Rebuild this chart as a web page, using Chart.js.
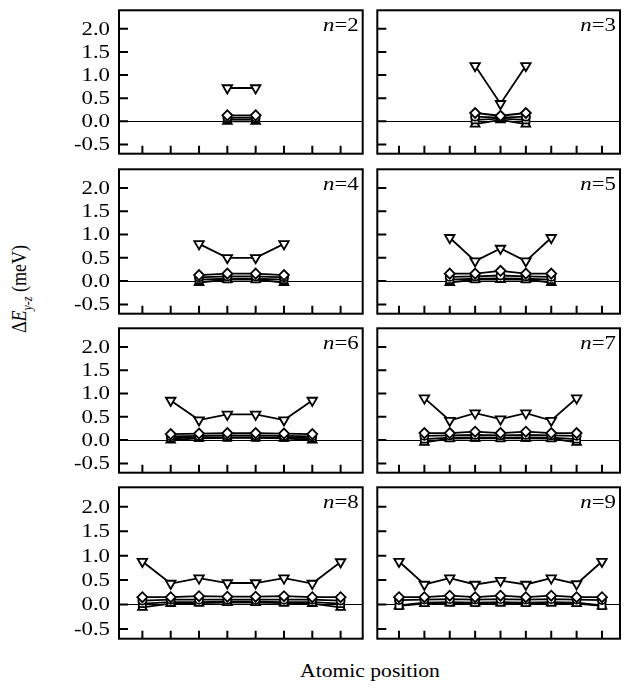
<!DOCTYPE html>
<html>
<head>
<meta charset="utf-8">
<script src="https://cdn.jsdelivr.net/npm/chart.js@4"></script>
<style>
  html, body { margin: 0; padding: 0; background: #fff; }
  #wrap { position: relative; width: 628px; height: 689px; overflow: hidden; }
  #wrap canvas { position: absolute; }
  .ytitle {
    position: absolute; left: 22px; top: 289px;
    transform: translate(-50%, -50%) rotate(-90deg) scaleY(1.15);
    font-family: "Liberation Serif", serif; font-size: 18px; white-space: nowrap; color: #000;
  }
  .ytitle sub { font-size: 12px; }
  .xtitle {
    position: absolute; left: 370px; top: 671px;
    transform: translate(-50%, -50%) scaleX(1.2);
    font-family: "Liberation Serif", serif; font-size: 18px; white-space: nowrap; color: #000;
  }
</style>
</head>
<body>
<div id="wrap">
  <div class="ytitle">Δ<i>E</i><sub><i>y-z</i></sub> (meV)</div>
  <div class="xtitle">Atomic position</div>
</div>
<script>
// Chain length shown in each panel (left column: even n, right column: odd n)
const panelN = [2, 3, 4, 5, 6, 7, 8, 9];
// Atomic sites along the x axis of each column
const leftSites = [1, 2, 3, 4, 5, 6, 7, 8];
const rightSites = [1, 2, 3, 4, 5, 6, 7, 8, 9];
// First occupied site of each chain (chains are centred)
const firstSite = [4, 4, 3, 3, 2, 2, 1, 1];

// ΔE(y-z) in meV for each chain, one array per panel
const downTriangle = [
  [0.72, 0.72],
  [1.20, 0.38, 1.20],
  [0.80, 0.50, 0.50, 0.80],
  [0.93, 0.43, 0.70, 0.43, 0.93],
  [0.85, 0.43, 0.55, 0.55, 0.43, 0.85],
  [0.90, 0.42, 0.58, 0.45, 0.58, 0.42, 0.90],
  [0.88, 0.43, 0.54, 0.44, 0.44, 0.54, 0.43, 0.87],
  [0.88, 0.41, 0.54, 0.41, 0.49, 0.41, 0.54, 0.42, 0.88]
];
const diamond = [
  [0.13, 0.13],
  [0.18, 0.12, 0.18],
  [0.13, 0.16, 0.16, 0.13],
  [0.16, 0.16, 0.22, 0.16, 0.16],
  [0.13, 0.14, 0.15, 0.15, 0.14, 0.13],
  [0.15, 0.15, 0.18, 0.15, 0.18, 0.15, 0.15],
  [0.15, 0.15, 0.17, 0.16, 0.16, 0.17, 0.15, 0.15],
  [0.15, 0.15, 0.18, 0.15, 0.18, 0.15, 0.18, 0.15, 0.15]
];
const circle = [
  [0.08, 0.08],
  [0.10, 0.08, 0.10],
  [0.08, 0.10, 0.10, 0.08],
  [0.09, 0.10, 0.12, 0.10, 0.09],
  [0.08, 0.09, 0.10, 0.10, 0.09, 0.08],
  [0.09, 0.10, 0.11, 0.10, 0.11, 0.10, 0.09],
  [0.08, 0.10, 0.10, 0.10, 0.10, 0.10, 0.10, 0.08],
  [0.09, 0.10, 0.11, 0.10, 0.11, 0.10, 0.11, 0.10, 0.09]
];
const square = [
  [0.04, 0.04],
  [0.03, 0.06, 0.03],
  [0.03, 0.05, 0.05, 0.03],
  [0.03, 0.05, 0.06, 0.05, 0.03],
  [0.04, 0.06, 0.06, 0.06, 0.06, 0.04],
  [0.02, 0.05, 0.06, 0.05, 0.06, 0.05, 0.02],
  [0.02, 0.05, 0.05, 0.06, 0.06, 0.05, 0.05, 0.02],
  [-0.02, 0.04, 0.05, 0.04, 0.05, 0.04, 0.05, 0.04, -0.02]
];
const upTriangle = [
  [0.00, 0.00],
  [-0.06, 0.03, -0.06],
  [-0.03, 0.03, 0.03, -0.03],
  [-0.03, 0.03, 0.03, 0.03, -0.03],
  [0.00, 0.04, 0.05, 0.05, 0.04, 0.00],
  [-0.05, 0.03, 0.04, 0.04, 0.04, 0.03, -0.05],
  [-0.06, 0.02, 0.03, 0.04, 0.04, 0.03, 0.02, -0.06],
  [-0.03, 0.02, 0.03, 0.03, 0.03, 0.03, 0.03, 0.02, -0.03]
];

// Plot-area rectangles (page pixels) for the two columns and four rows
const colBox = [ { left: 119, right: 366, xMin: 0.174, xMax: 8.78 },
                 { left: 374, right: 620, xMin: 0.144, xMax: 9.71 } ];
const rowBox = [ { top: 7, bottom: 157 }, { top: 166, bottom: 317 },
                 { top: 325, bottom: 476 }, { top: 484, bottom: 642 } ];

const SERIF = '"Liberation Serif", "Times New Roman", serif';

// Frame, inward tick marks, y tick labels and the n= label of each panel
const framePlugin = {
  id: 'panelFrame',
  afterDraw(chart, args, opts) {
    const { ctx, chartArea: a } = chart;
    const xs = chart.scales.x, ys = chart.scales.y;
    ctx.save();
    ctx.strokeStyle = '#000';
    ctx.lineWidth = 2;
    ctx.beginPath();
    opts.sites.forEach(s => {
      const px = xs.getPixelForValue(s);
      ctx.moveTo(px, a.bottom);
      ctx.lineTo(px, a.bottom - 8);
    });
    ys.ticks.forEach(t => {
      const py = ys.getPixelForValue(t.value);
      ctx.moveTo(a.left, py);
      ctx.lineTo(a.left + 9, py);
    });
    ctx.stroke();
    ctx.strokeRect(a.left, a.top, a.right - a.left, a.bottom - a.top);

    ctx.fillStyle = '#000';
    if (opts.labels) {
      ctx.font = '19px ' + SERIF;
      ctx.textAlign = 'right';
      ctx.textBaseline = 'middle';
      ys.ticks.forEach(t => {
        const py = ys.getPixelForValue(t.value);
        ctx.save();
        ctx.translate(a.left - 9, py + 1);
        ctx.scale(1.2, 1);
        ctx.fillText(t.value.toFixed(1), 0, 0);
        ctx.restore();
      });
    }

    ctx.textBaseline = 'alphabetic';
    ctx.translate(a.right - 4, a.top + 21);
    ctx.scale(1.2, 1);
    ctx.font = '19px ' + SERIF;
    ctx.textAlign = 'right';
    const rest = '=' + opts.n;
    ctx.fillText(rest, 0, 0);
    const w = ctx.measureText(rest).width;
    ctx.font = 'italic 19px ' + SERIF;
    ctx.fillText('n', -w, 0);
    ctx.restore();
  }
};

function series(values, start, style, rotation, radius) {
  return {
    data: values.map((v, i) => ({ x: start + i, y: v })),
    borderColor: '#000',
    borderWidth: 1.8,
    pointStyle: style,
    rotation: rotation,
    pointRadius: radius,
    pointHoverRadius: radius,
    pointBorderWidth: 1.8,
    pointBorderColor: '#000',
    pointBackgroundColor: '#fff',
    tension: 0,
    fill: false
  };
}

const wrap = document.getElementById('wrap');

panelN.forEach((n, p) => {
  const col = p % 2, row = Math.floor(p / 2);
  const cb = colBox[col], rb = rowBox[row];
  const canvasLeft = col === 0 ? 0 : 370;
  const canvasRight = col === 0 ? 370 : 628;
  const yAxisWidth = cb.left - canvasLeft;
  const padRight = canvasRight - cb.right;
  const canvasTop = rb.top - 4;
  const height = rb.bottom - rb.top + 8;

  const canvas = document.createElement('canvas');
  canvas.width = canvasRight - canvasLeft;
  canvas.height = height;
  canvas.style.left = canvasLeft + 'px';
  canvas.style.top = canvasTop + 'px';
  canvas.style.width = canvas.width + 'px';
  canvas.style.height = height + 'px';
  wrap.appendChild(canvas);

  const s0 = firstSite[p];
  new Chart(canvas, {
    type: 'line',
    data: {
      datasets: [
        series(downTriangle[p], s0, 'triangle', 180, 5.5),
        series(diamond[p], s0, 'rectRot', 0, 5),
        series(circle[p], s0, 'circle', 0, 4),
        series(square[p], s0, 'rect', 0, 5),
        series(upTriangle[p], s0, 'triangle', 0, 5)
      ]
    },
    options: {
      responsive: false,
      animation: false,
      events: [],
      layout: { padding: { left: 0, right: padRight, top: 4, bottom: 4 } },
      plugins: {
        legend: { display: false },
        tooltip: { enabled: false },
        panelFrame: { n: n, sites: col === 0 ? leftSites : rightSites, labels: col === 0 }
      },
      scales: {
        x: {
          type: 'linear',
          display: false,
          min: cb.xMin,
          max: cb.xMax
        },
        y: {
          type: 'linear',
          min: -0.7,
          max: 2.4,
          afterFit(scale) {
            scale.width = yAxisWidth;
            scale.paddingTop = 0;
            scale.paddingBottom = 0;
          },
          border: { display: false },
          grid: {
            drawTicks: false,
            lineWidth: 1,
            color: c => (c.tick && c.tick.value === 0) ? '#000' : 'rgba(0,0,0,0)'
          },
          ticks: {
            display: false,
            autoSkip: false,
            stepSize: 0.5,
            includeBounds: false
          }
        }
      }
    },
    plugins: [framePlugin]
  });
});
</script>
</body>
</html>
